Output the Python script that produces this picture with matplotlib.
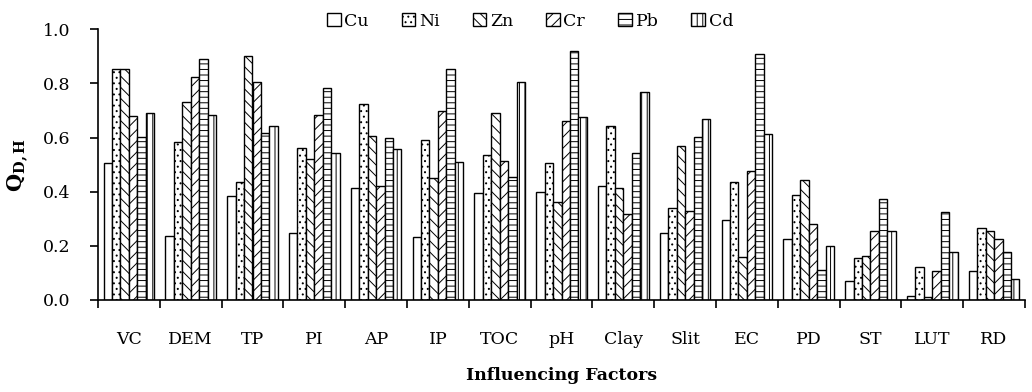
import matplotlib
matplotlib.use("Agg")
import matplotlib.pyplot as plt
import numpy as np

factors = ["VC", "DEM", "TP", "PI", "AP", "IP", "TOC", "pH", "Clay", "Slit",
           "EC", "PD", "ST", "LUT", "RD"]
metals = ["Cu", "Ni", "Zn", "Cr", "Pb", "Cd"]

Cu = [0.507, 0.238, 0.385, 0.246, 0.413, 0.232, 0.394, 0.398, 0.421, 0.246,
      0.296, 0.225, 0.070, 0.015, 0.108]
Ni = [0.853, 0.584, 0.436, 0.560, 0.723, 0.591, 0.536, 0.505, 0.644, 0.339,
      0.437, 0.388, 0.156, 0.123, 0.265]
Zn = [0.853, 0.731, 0.901, 0.520, 0.606, 0.450, 0.690, 0.363, 0.413, 0.569,
      0.160, 0.443, 0.164, 0.012, 0.255]
Cr = [0.681, 0.823, 0.807, 0.683, 0.422, 0.699, 0.513, 0.661, 0.318, 0.330,
      0.477, 0.280, 0.255, 0.108, 0.224]
Pb = [0.601, 0.890, 0.618, 0.783, 0.597, 0.852, 0.453, 0.920, 0.544, 0.601,
      0.907, 0.111, 0.373, 0.324, 0.178]
Cd = [0.690, 0.682, 0.643, 0.544, 0.559, 0.511, 0.805, 0.675, 0.768, 0.669,
      0.613, 0.199, 0.256, 0.178, 0.076]

series = [Cu, Ni, Zn, Cr, Pb, Cd]
hatches = ["", "...", "\\\\\\", "///", "---", "|||"]

plt.rcParams['font.family'] = ['DejaVu Serif']
plt.rcParams['hatch.linewidth'] = 0.7
plt.rcParams['mathtext.fontset'] = 'dejavuserif'

fig = plt.figure(figsize=(10.32, 3.92), dpi=100)
ax = fig.add_axes([98/1032, 1 - 300/392, (1025 - 98)/1032, (300 - 29.3)/392])

x = np.arange(len(factors))
w = 0.136
for j, (name, vals, h) in enumerate(zip(metals, series, hatches)):
    ax.bar(x + (j - 2.5) * w, vals, width=w, facecolor="white",
           edgecolor="black", linewidth=1.0, hatch=h, label=name)

ax.set_xlim(-0.5, len(factors) - 0.5)
ax.set_ylim(0, 1.0)
ax.set_yticks(np.arange(0, 1.01, 0.2))
ax.set_yticklabels([f"{v:.1f}" for v in np.arange(0, 1.01, 0.2)])
ax.set_xticks(x)
ax.set_xticklabels(factors)
ax.set_xticks(np.arange(-0.5, len(factors), 1.0), minor=True)
ax.tick_params(axis='x', which='major', length=0, pad=22, labelsize=12.5)
ax.tick_params(axis='x', which='minor', length=6, width=1.2, direction='out')
ax.tick_params(axis='y', length=6, width=1.2, direction='out', pad=14, labelsize=12.5)

for s in ["top", "right"]:
    ax.spines[s].set_visible(False)
for s in ["left", "bottom"]:
    ax.spines[s].set_linewidth(1.2)

ax.set_ylabel(r"$\mathbf{Q}_{\mathbf{D,H}}$", fontsize=15, labelpad=8)
ax.set_xlabel("Influencing Factors", fontsize=12.5, fontweight="bold", labelpad=14)

leg = fig.legend(loc="center", bbox_to_anchor=(530/1032, 1 - 21/392), ncol=6,
                 frameon=False, fontsize=12.5, handlelength=0.8, handleheight=0.8,
                 handletextpad=0.2, columnspacing=1.9)

fig.savefig("out.png", dpi=100)
